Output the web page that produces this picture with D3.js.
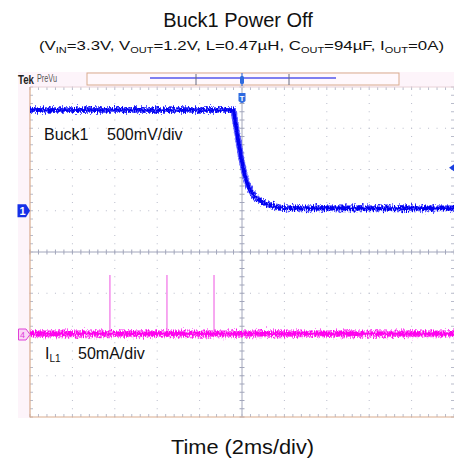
<!DOCTYPE html>
<html>
<head>
<meta charset="utf-8">
<script src="https://cdn.jsdelivr.net/npm/d3@7"></script>
<style>
  html, body { margin: 0; padding: 0; background: #ffffff; }
  svg { display: block; font-family: "Liberation Sans", Arial, sans-serif; }
</style>
</head>
<body>
<svg id="chart" width="454" height="458"></svg>
<script>
// Channel 1: Buck1 output voltage (V) over time (ms, trigger at 0)
const ch1Time = [-10, -0.42, -0.3, -0.18, -0.05, 0.1, 0.25, 0.4, 0.55, 0.75, 1.0, 1.3, 1.7, 2.2, 10];
const ch1Volt = [1.22, 1.22, 1.05, 0.86, 0.66, 0.47, 0.33, 0.25, 0.19, 0.14, 0.10, 0.07, 0.045, 0.03, 0.03];

// Channel 4: inductor current (mA)
const ch4Time = [-10, 10];
const ch4Current = [1, 1];
// Short current pulses before power off (ms, peak mA)
const spikeTime = [-6.23, -3.54, -1.32];
const spikePeak = [72, 72, 72];

// Scope settings
const timeDomain = [-10, 10];        // 2 ms/div, 10 divisions
const ch1VoltPerDiv = 0.5;           // 500 mV/div
const ch1OffsetDiv = 1;              // ground marker 1 div above center
const ch4MaPerDiv = 50;              // 50 mA/div
const ch4OffsetDiv = -2;             // ground marker 2 div below center
const triggerLevel = 0.52;           // V, on channel 1

const svg = d3.select("#chart");
const W = 454, H = 458;
const gLeft = 30, gRight = 454, gTop = 87, gBottom = 417;

const x = d3.scaleLinear().domain(timeDomain).range([gLeft, gRight]);
const yDiv = d3.scaleLinear().domain([-4, 4]).range([gBottom, gTop]);
const y1 = d3.scaleLinear()
  .domain([(-4 - ch1OffsetDiv) * ch1VoltPerDiv, (4 - ch1OffsetDiv) * ch1VoltPerDiv])
  .range([gBottom, gTop]);
const y4 = d3.scaleLinear()
  .domain([(-4 - ch4OffsetDiv) * ch4MaPerDiv, (4 - ch4OffsetDiv) * ch4MaPerDiv])
  .range([gBottom, gTop]);

// Acquisition-noise texture for the traces (vertical jitter only)
const defs = svg.append("defs");
const fuzz = defs.append("filter").attr("id", "fuzz").attr("filterUnits", "userSpaceOnUse")
  .attr("x", 0).attr("y", 60).attr("width", W).attr("height", 380);
fuzz.append("feTurbulence").attr("type", "fractalNoise").attr("baseFrequency", "0.9 0.35")
  .attr("numOctaves", 2).attr("seed", 7).attr("result", "noise");
fuzz.append("feColorMatrix").attr("in", "noise").attr("type", "matrix")
  .attr("values", "0 0 0 0 0.5  0 1 0 0 0  0 0 0 0 0  0 0 0 0 1").attr("result", "shift");
fuzz.append("feDisplacementMap").attr("in", "SourceGraphic").attr("in2", "shift")
  .attr("scale", 9).attr("xChannelSelector", "R").attr("yChannelSelector", "G");

svg.append("rect").attr("width", W).attr("height", H).attr("fill", "#ffffff");

// Title and conditions
svg.append("text").attr("x", 238).attr("y", 26.5).attr("text-anchor", "middle")
  .attr("font-size", 20).attr("fill", "#111").text("Buck1 Power Off");

const sub = svg.append("text").attr("x", 39).attr("y", 50)
  .attr("font-size", 13).attr("fill", "#111")
  .attr("textLength", 405).attr("lengthAdjust", "spacingAndGlyphs");
const subParts = [
  ["(V", false], ["IN", true], ["=3.3V, V", false], ["OUT", true],
  ["=1.2V, L=0.47µH, C", false], ["OUT", true], ["=94µF, I", false], ["OUT", true], ["=0A)", false]
];
subParts.forEach(([t, s], i) => {
  const ts = sub.append("tspan").text(t);
  if (s) ts.attr("font-size", 8.5).attr("dy", 2.5);
  else if (i > 0 && subParts[i - 1][1]) ts.attr("dy", -2.5);
});

// Scope frame background strips
svg.append("rect").attr("x", 18).attr("y", 72).attr("width", gRight - 18).attr("height", 15).attr("fill", "#fdf4fa");
svg.append("rect").attr("x", 18).attr("y", 87).attr("width", 12).attr("height", gBottom - 87 + 1).attr("fill", "#fdf4fa");

// Tek PreVu header
svg.append("text").attr("x", 18).attr("y", 83.5).attr("font-size", 13).attr("font-weight", "bold")
  .attr("fill", "#222").attr("textLength", 16).attr("lengthAdjust", "spacingAndGlyphs").text("Tek");
svg.append("text").attr("x", 37).attr("y", 82).attr("font-size", 10.5)
  .attr("fill", "#555").attr("textLength", 20).attr("lengthAdjust", "spacingAndGlyphs").text("PreVu");

svg.append("rect").attr("x", 87).attr("y", 73).attr("width", 312).attr("height", 12)
  .attr("fill", "#fff8fc").attr("stroke", "#d9ab8e").attr("stroke-width", 1);
svg.append("line").attr("x1", 150).attr("x2", 336).attr("y1", 78).attr("y2", 78)
  .attr("stroke", "#7f7ff0").attr("stroke-width", 2);
[196, 289].forEach(bx => {
  svg.append("line").attr("x1", bx).attr("x2", bx).attr("y1", 74).attr("y2", 85)
    .attr("stroke", "#666a80").attr("stroke-width", 1);
});
// small trigger marker inside the record view
svg.append("line").attr("x1", 242).attr("x2", 242).attr("y1", 73).attr("y2", 86)
  .attr("stroke", "#3a6fd8").attr("stroke-width", 1.2);
svg.append("rect").attr("x", 240).attr("y", 76).attr("width", 4).attr("height", 8).attr("rx", 1.5)
  .attr("fill", "#2f6be0");

// Grid
const gridColor = "#b9bccb";
const majorX = d3.range(1, 10).filter(i => i !== 5).map(i => -10 + i * 2);
const majorY = d3.range(-3, 4).filter(j => j !== 0);
const minorX = d3.range(0, 51).map(i => -10 + i * 0.4);
const minorY = d3.range(0, 41).map(j => -4 + j * 0.2);

const grid = svg.append("g");
// dotted vertical division lines
majorX.forEach(t => {
  grid.selectAll(null).data(minorY).enter().append("rect")
    .attr("x", x(t) - 0.5).attr("y", d => yDiv(d) - 0.5).attr("width", 1).attr("height", 1)
    .attr("fill", gridColor);
});
// dotted horizontal division lines
majorY.forEach(dv => {
  grid.selectAll(null).data(minorX).enter().append("rect")
    .attr("x", d => x(d) - 0.5).attr("y", yDiv(dv) - 0.5).attr("width", 1).attr("height", 1)
    .attr("fill", gridColor);
});
// center cross lines with minor ticks
const centerColor = "#a2a6bb";
grid.append("line").attr("x1", gLeft).attr("x2", gRight).attr("y1", yDiv(0)).attr("y2", yDiv(0))
  .attr("stroke", centerColor).attr("stroke-width", 1);
grid.append("line").attr("x1", x(0)).attr("x2", x(0)).attr("y1", gTop).attr("y2", gBottom)
  .attr("stroke", centerColor).attr("stroke-width", 1);
grid.selectAll(null).data(minorX).enter().append("line")
  .attr("x1", d => x(d)).attr("x2", d => x(d)).attr("y1", yDiv(0) - 2.5).attr("y2", yDiv(0) + 2.5)
  .attr("stroke", centerColor);
grid.selectAll(null).data(minorY).enter().append("line")
  .attr("x1", x(0) - 2.5).attr("x2", x(0) + 2.5).attr("y1", d => yDiv(d)).attr("y2", d => yDiv(d))
  .attr("stroke", centerColor);
// edge ticks
grid.selectAll(null).data(minorX).enter().append("line")
  .attr("x1", d => x(d)).attr("x2", d => x(d)).attr("y1", gTop).attr("y2", gTop + 3)
  .attr("stroke", gridColor);
grid.selectAll(null).data(minorX).enter().append("line")
  .attr("x1", d => x(d)).attr("x2", d => x(d)).attr("y1", gBottom - 3).attr("y2", gBottom)
  .attr("stroke", gridColor);
grid.selectAll(null).data(minorY).enter().append("line")
  .attr("x1", gLeft).attr("x2", gLeft + 3).attr("y1", d => yDiv(d)).attr("y2", d => yDiv(d))
  .attr("stroke", gridColor);
grid.selectAll(null).data(minorY).enter().append("line")
  .attr("x1", gRight - 3).attr("x2", gRight).attr("y1", d => yDiv(d)).attr("y2", d => yDiv(d))
  .attr("stroke", gridColor);

// Frame
svg.append("line").attr("x1", gLeft).attr("x2", gRight).attr("y1", gTop).attr("y2", gTop)
  .attr("stroke", "#e8d2d8").attr("stroke-width", 1);
svg.append("line").attr("x1", gLeft).attr("x2", gLeft).attr("y1", gTop).attr("y2", gBottom + 0.5)
  .attr("stroke", "#d9ab8e").attr("stroke-width", 1.2);
svg.append("line").attr("x1", gLeft).attr("x2", gRight).attr("y1", gBottom).attr("y2", gBottom)
  .attr("stroke", "#d9ab8e").attr("stroke-width", 1.2);

// Channel 4 trace
const ch4Data = ch4Time.map((t, i) => [t, ch4Current[i]]);
const line4 = d3.line().x(d => x(d[0])).y(d => y4(d[1]));
svg.append("g").selectAll("line").data(spikeTime).enter().append("line")
  .attr("x1", d => x(d)).attr("x2", d => x(d))
  .attr("y1", y4(ch4Current[0])).attr("y2", (d, i) => y4(spikePeak[i]))
  .attr("stroke", "#f27ae8").attr("stroke-width", 1.3);
const trace4 = svg.append("g").attr("filter", "url(#fuzz)");
trace4.append("path").datum(ch4Data).attr("d", line4).attr("fill", "none")
  .attr("stroke", "#ff33f0").attr("stroke-opacity", 0.75).attr("stroke-width", 7);
trace4.append("path").datum(ch4Data).attr("d", line4).attr("fill", "none")
  .attr("stroke", "#ff00ee").attr("stroke-width", 4);

// Channel 1 trace
const ch1Data = ch1Time.map((t, i) => [t, ch1Volt[i]]);
const line1 = d3.line().x(d => x(d[0])).y(d => y1(d[1])).curve(d3.curveMonotoneX);
const trace1 = svg.append("g").attr("filter", "url(#fuzz)");
trace1.append("path").datum(ch1Data).attr("d", line1).attr("fill", "none")
  .attr("stroke", "#2a2aff").attr("stroke-opacity", 0.75).attr("stroke-width", 6);
trace1.append("path").datum(ch1Data).attr("d", line1).attr("fill", "none")
  .attr("stroke", "#0000f0").attr("stroke-width", 3.5);

// Trigger position marker
const tx = x(0);
svg.append("path")
  .attr("d", `M${tx - 3.5},93 L${tx + 3.5},93 L${tx + 3.5},101 Q${tx},105 ${tx - 3.5},101 Z`)
  .attr("fill", "#2f6be0");
svg.append("text").attr("x", tx).attr("y", 100.5).attr("text-anchor", "middle")
  .attr("font-size", 8).attr("font-weight", "bold").attr("fill", "#fff").text("T");

// Trigger level arrow
const ty = y1(triggerLevel);
svg.append("path").attr("d", `M${gRight - 5},${ty} L${gRight},${ty - 3.5} L${gRight},${ty + 3.5} Z`)
  .attr("fill", "#1a3fe0");

// Channel ground markers
const g1 = y1(0);
svg.append("path")
  .attr("d", `M17.5,${g1 - 6.5} L26,${g1 - 6.5} L30,${g1} L26,${g1 + 6.5} L17.5,${g1 + 6.5} Z`)
  .attr("fill", "#1530e8");
svg.append("text").attr("x", 22.5).attr("y", g1 + 4).attr("text-anchor", "middle")
  .attr("font-size", 11).attr("font-weight", "bold").attr("fill", "#fff").text("1");
const g4 = y4(0);
svg.append("path")
  .attr("d", `M18.5,${g4 - 5.5} L26,${g4 - 5.5} L30,${g4} L26,${g4 + 5.5} L18.5,${g4 + 5.5} Z`)
  .attr("fill", "#fbd6f6").attr("stroke", "#e040d8").attr("stroke-width", 1);
svg.append("text").attr("x", 22.5).attr("y", g4 + 3.5).attr("text-anchor", "middle")
  .attr("font-size", 9).attr("fill", "#e040d8").text("4");

// Channel labels
svg.append("text").attr("x", 44).attr("y", 140).attr("font-size", 16).attr("fill", "#111").text("Buck1");
svg.append("text").attr("x", 107).attr("y", 140).attr("font-size", 16).attr("fill", "#111").text("500mV/div");

const il = svg.append("text").attr("x", 45).attr("y", 359).attr("font-size", 16).attr("fill", "#111");
il.append("tspan").text("I");
il.append("tspan").attr("font-size", 10).attr("dy", 3).text("L1");
svg.append("text").attr("x", 78).attr("y", 359).attr("font-size", 16).attr("fill", "#111").text("50mA/div");

// Axis caption
svg.append("text").attr("x", 171).attr("y", 454)
  .attr("font-size", 20).attr("fill", "#111")
  .attr("textLength", 143).attr("lengthAdjust", "spacingAndGlyphs").text("Time (2ms/div)");
</script>
</body>
</html>
